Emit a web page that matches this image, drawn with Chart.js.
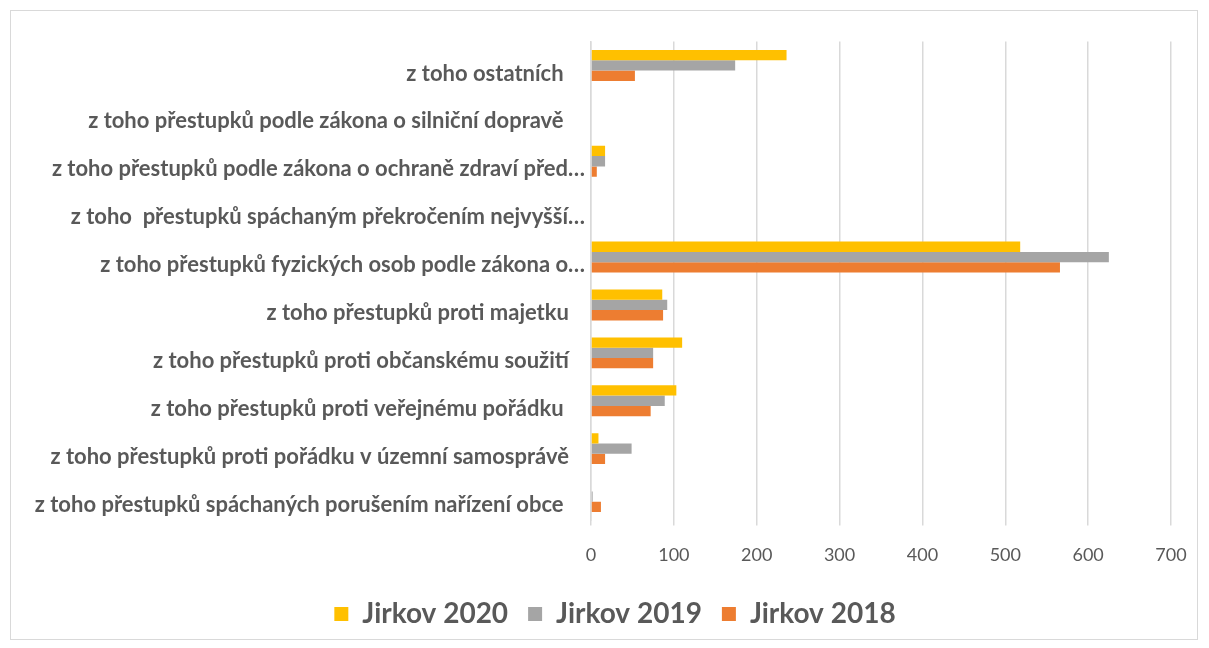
<!DOCTYPE html>
<html>
<head>
<meta charset="utf-8">
<script src="https://cdn.jsdelivr.net/npm/chart.js@4.4.0/dist/chart.umd.min.js"></script>
<style>
	html, body { margin: 0; padding: 0; background: #fff; }
	#chart { display: block; }
</style>
</head>
<body>
<canvas id="chart" width="1209" height="648"></canvas>
<script>

// categories, top to bottom as shown
var categories = [
	"z toho ostatních    ",
	"z toho přestupků podle zákona o silniční dopravě    ",
	"z toho přestupků podle zákona o ochraně zdraví před…",
	"z toho  přestupků spáchaným překročením nejvyšší…",
	"z toho přestupků fyzických osob podle zákona o…",
	"z toho přestupků proti majetku   ",
	"z toho přestupků proti občanskému soužití   ",
	"z toho přestupků proti veřejnému pořádku    ",
	"z toho přestupků proti pořádku v územní samosprávě   ",
	"z toho přestupků spáchaných porušením nařízení obce    "
];

var seriesNames = ["Jirkov 2020", "Jirkov 2019", "Jirkov 2018"];

var jirkov2020 = [236, 0, 17, 0, 518, 86, 110, 103, 9, 0];
var jirkov2019 = [174, 0, 17, 0, 625, 92, 75, 89, 49, 2];
var jirkov2018 = [53, 0, 7, 0, 566, 87, 75, 72, 17, 12];

var xTicks = [0, 100, 200, 300, 400, 500, 600, 700];

var textColor = "#595959";
var gridColor = "#d9d9d9";

// light frame round the whole chart, like the Excel chart area
var framePlugin = {
	id: "frame",
	beforeDraw: function(chart) {
		var ctx = chart.ctx;
		ctx.save();
		ctx.fillStyle = "#fff";
		ctx.fillRect(0, 0, chart.width, chart.height);
		ctx.strokeStyle = gridColor;
		ctx.lineWidth = 1;
		ctx.strokeRect(10.5, 10.5, 1187, 629);
		ctx.restore();
	}
};

var ctx = document.getElementById("chart").getContext("2d");

new Chart(ctx, {
	type: "bar",
	data: {
		labels: categories,
		datasets: [
			{ label: seriesNames[0], data: jirkov2020, backgroundColor: "#FFC000" },
			{ label: seriesNames[1], data: jirkov2019, backgroundColor: "#A5A5A5" },
			{ label: seriesNames[2], data: jirkov2018, backgroundColor: "#ED7D31" }
		]
	},
	options: {
		indexAxis: "y",
		responsive: false,
		animation: false,
		devicePixelRatio: 1,
		categoryPercentage: 0.645,
		barPercentage: 1,
		layout: {
			padding: { left: 21, top: 41.5, right: 0, bottom: 10 }
		},
		plugins: {
			tooltip: { enabled: false },
			legend: {
				position: "bottom",
				labels: {
					color: textColor,
					boxWidth: 14,
					boxHeight: 14,
					padding: 20,
					font: { family: "Lato", size: 28, weight: "bold" }
				}
			}
		},
		scales: {
			x: {
				type: "linear",
				min: 0,
				max: 700,
				afterBuildTicks: function(scale) {
					scale.ticks = xTicks.map(function(v) { return { value: v }; });
				},
				afterFit: function(scale) {
					scale.height = 59.5;
				},
				ticks: {
					color: textColor,
					padding: 19,
					font: { family: "Lato", size: 18 }
				},
				grid: {
					color: gridColor,
					lineWidth: 1.5,
					tickLength: 5
				},
				border: { display: false }
			},
			y: {
				type: "category",
				afterFit: function(scale) {
					scale.width = 570;
				},
				ticks: {
					color: textColor,
					padding: 6,
					labelOffset: 8,
					autoSkip: false,
					font: { family: "Lato", size: 22, weight: "bold" }
				},
				grid: { display: false, drawTicks: false },
				border: { display: true, color: gridColor, width: 1.5 }
			},
			// empty right-hand margin so the legend centres like the original
			yRight: {
				type: "linear",
				position: "right",
				afterFit: function(scale) {
					scale.width = 38;
				},
				ticks: { display: false },
				grid: { display: false, drawTicks: false },
				border: { display: false }
			}
		}
	},
	plugins: [framePlugin]
});

</script>
</body>
</html>
